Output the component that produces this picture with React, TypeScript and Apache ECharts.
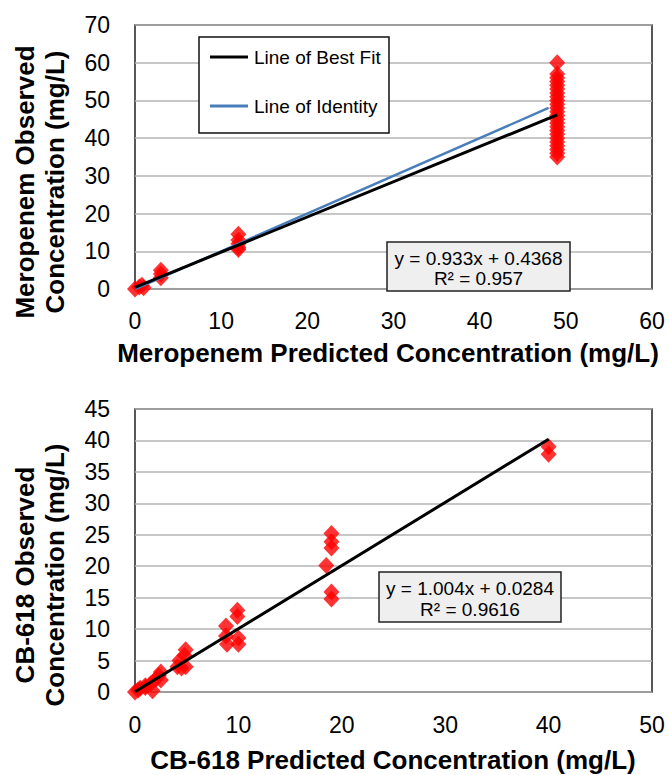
import React, { useEffect, useRef } from "react";
import * as echarts from "echarts";

// ---- Meropenem (top panel) ----
const meropenemPredicted = [
  0, 0.5, 0.8, 1, 3, 3, 3, 12, 12, 12, 12, 12,
  49, 49, 49, 49, 49, 49, 49, 49, 49, 49, 49, 49, 49, 49, 49, 49, 49, 49, 49, 49, 49, 49, 49, 49,
];
const meropenemObserved = [
  0, 0.5, 1.0, 0.3, 3.0, 4.0, 5.0, 10.5, 11, 12, 13, 14.5,
  60, 57, 56, 55, 54, 53, 52, 51, 50, 49, 48, 47, 46, 45, 44, 43, 42, 41, 40, 39, 38, 37, 36, 35,
];
const meropenemBestFit = [[0, 0.44], [49, 46.15]];
const meropenemIdentity = [[0, 0], [48, 48]];
const meropenemXTicks = { min: 0, max: 60, interval: 10 };
const meropenemYTicks = { min: 0, max: 70, interval: 10 };

// ---- CB-618 (bottom panel) ----
const cbPredicted = [
  0, 0.3, 0.5, 1, 1, 1.5, 1.7, 2, 2.5, 2.5, 2.3,
  4.1, 4.3, 4.5, 4.9, 4.8, 4.9,
  8.8, 8.8, 8.9, 9.9, 9.9, 10, 10,
  18.5, 19, 19, 19, 19, 19,
  40, 40,
];
const cbObserved = [
  0, 0.3, 0.6, 1, 0.7, 1.3, 0.2, 2, 1.9, 3.2, 2.6,
  4.0, 5.0, 3.8, 4.0, 5.8, 6.7,
  10.5, 8.9, 7.6, 13.0, 12.0, 8.6, 7.6,
  20.1, 25.2, 23.9, 22.9, 15.9, 14.8,
  39, 37.8,
];
const cbBestFit = [[0, 0.03], [40, 40.19]];
const cbXTicks = { min: 0, max: 50, interval: 10 };
const cbYTicks = { min: 0, max: 45, interval: 5 };

const FONT = '"Liberation Sans", Arial, sans-serif';

function pairs(xs: number[], ys: number[]) {
  return xs.map((x, i) => [x, ys[i]]);
}

function text(x: number, y: number, t: string, font: string, rotation = 0) {
  return {
    type: "text",
    x,
    y,
    rotation,
    z: 100,
    style: {
      text: t,
      font,
      fill: "#000",
      textAlign: "center",
      textVerticalAlign: "middle",
      align: "center",
      verticalAlign: "middle",
    },
  };
}

export default function App() {
  const ref = useRef<HTMLDivElement>(null);
  useEffect(() => {
    if (!ref.current) return;
    const chart = echarts.init(ref.current, undefined, { renderer: "svg" });
    const axisLabel = (margin: number) => ({
      fontSize: 23,
      fontFamily: FONT,
      color: "#000",
      margin,
    });
    const xAxisBase = {
      type: "value",
      axisLine: { show: false },
      axisTick: { show: false },
      splitLine: { show: false },
    };
    const yAxisBase = {
      type: "value",
      axisLine: { show: false },
      axisTick: { show: false },
      splitLine: { show: true, lineStyle: { color: "#b4b4b4", width: 1.5 } },
    };
    const eqFont = `19px ${FONT}`;
    const titleFont = `bold 26px ${FONT}`;
    chart.setOption({
      animation: false,
      backgroundColor: "#fff",
      grid: [
        { left: 135, top: 25, width: 517, height: 264, show: true, borderColor: "#222", borderWidth: 1.5, backgroundColor: "transparent" },
        { left: 135, top: 409, width: 517, height: 283, show: true, borderColor: "#222", borderWidth: 1.5, backgroundColor: "transparent" },
      ],
      xAxis: [
        { ...xAxisBase, gridIndex: 0, ...meropenemXTicks, axisLabel: axisLabel(20) },
        { ...xAxisBase, gridIndex: 1, ...cbXTicks, axisLabel: axisLabel(21) },
      ],
      yAxis: [
        { ...yAxisBase, gridIndex: 0, ...meropenemYTicks, axisLabel: axisLabel(25) },
        { ...yAxisBase, gridIndex: 1, ...cbYTicks, axisLabel: axisLabel(25) },
      ],
      series: [
        {
          type: "scatter",
          xAxisIndex: 0,
          yAxisIndex: 0,
          symbol: "diamond",
          symbolSize: [16, 17],
          itemStyle: { color: "#ff0000" },
          data: pairs(meropenemPredicted, meropenemObserved),
          z: 2,
        },
        {
          type: "line",
          xAxisIndex: 0,
          yAxisIndex: 0,
          symbol: "none",
          lineStyle: { color: "#4a7ebb", width: 2.5 },
          data: meropenemIdentity,
          z: 3,
        },
        {
          type: "line",
          xAxisIndex: 0,
          yAxisIndex: 0,
          symbol: "none",
          lineStyle: { color: "#000", width: 3 },
          data: meropenemBestFit,
          z: 4,
        },
        {
          type: "scatter",
          xAxisIndex: 1,
          yAxisIndex: 1,
          symbol: "diamond",
          symbolSize: [16, 17],
          itemStyle: { color: "#ff0000" },
          data: pairs(cbPredicted, cbObserved),
          z: 2,
        },
        {
          type: "line",
          xAxisIndex: 1,
          yAxisIndex: 1,
          symbol: "none",
          lineStyle: { color: "#000", width: 3 },
          data: cbBestFit,
          z: 4,
        },
      ],
      graphic: [
        // y-axis titles
        text(25, 182, "Meropenem Observed", titleFont, Math.PI / 2),
        text(55, 182, "Concentration (mg/L)", titleFont, Math.PI / 2),
        text(25, 575, "CB-618 Observed", titleFont, Math.PI / 2),
        text(55, 575, "Concentration (mg/L)", titleFont, Math.PI / 2),
        // x-axis titles
        text(388, 353, "Meropenem Predicted Concentration (mg/L)", titleFont),
        text(393, 760, "CB-618 Predicted Concentration (mg/L)", titleFont),
        // legend box (top panel)
        {
          type: "rect",
          z: 90,
          shape: { x: 199, y: 37, width: 190, height: 96 },
          style: { fill: "#fff", stroke: "#111", lineWidth: 1.5 },
        },
        {
          type: "line",
          z: 91,
          shape: { x1: 210, y1: 57, x2: 248, y2: 57 },
          style: { stroke: "#000", lineWidth: 3 },
        },
        {
          type: "line",
          z: 91,
          shape: { x1: 210, y1: 106, x2: 248, y2: 106 },
          style: { stroke: "#4a7ebb", lineWidth: 3 },
        },
        {
          type: "text",
          z: 92,
          x: 254,
          y: 57,
          style: { text: "Line of Best Fit", font: eqFont, fill: "#000", textAlign: "left", align: "left", textVerticalAlign: "middle", verticalAlign: "middle" },
        },
        {
          type: "text",
          z: 92,
          x: 254,
          y: 106,
          style: { text: "Line of Identity", font: eqFont, fill: "#000", textAlign: "left", align: "left", textVerticalAlign: "middle", verticalAlign: "middle" },
        },
        // equation box (top panel)
        {
          type: "rect",
          z: 90,
          shape: { x: 387, y: 242, width: 183, height: 49 },
          style: { fill: "#efefef", stroke: "#222", lineWidth: 1.5 },
        },
        text(478.5, 258, "y = 0.933x + 0.4368", eqFont),
        text(478.5, 278, "R² = 0.957", eqFont),
        // equation box (bottom panel)
        {
          type: "rect",
          z: 90,
          shape: { x: 379, y: 572, width: 182, height: 50 },
          style: { fill: "#efefef", stroke: "#222", lineWidth: 1.5 },
        },
        text(470, 588, "y = 1.004x + 0.0284", eqFont),
        text(470, 609, "R² = 0.9616", eqFont),
      ],
    });
    return () => chart.dispose();
  }, []);
  return (
    <div
      ref={ref}
      style={{ position: "absolute", left: 0, top: 0, width: 669, height: 775, background: "#fff" }}
    />
  );
}
